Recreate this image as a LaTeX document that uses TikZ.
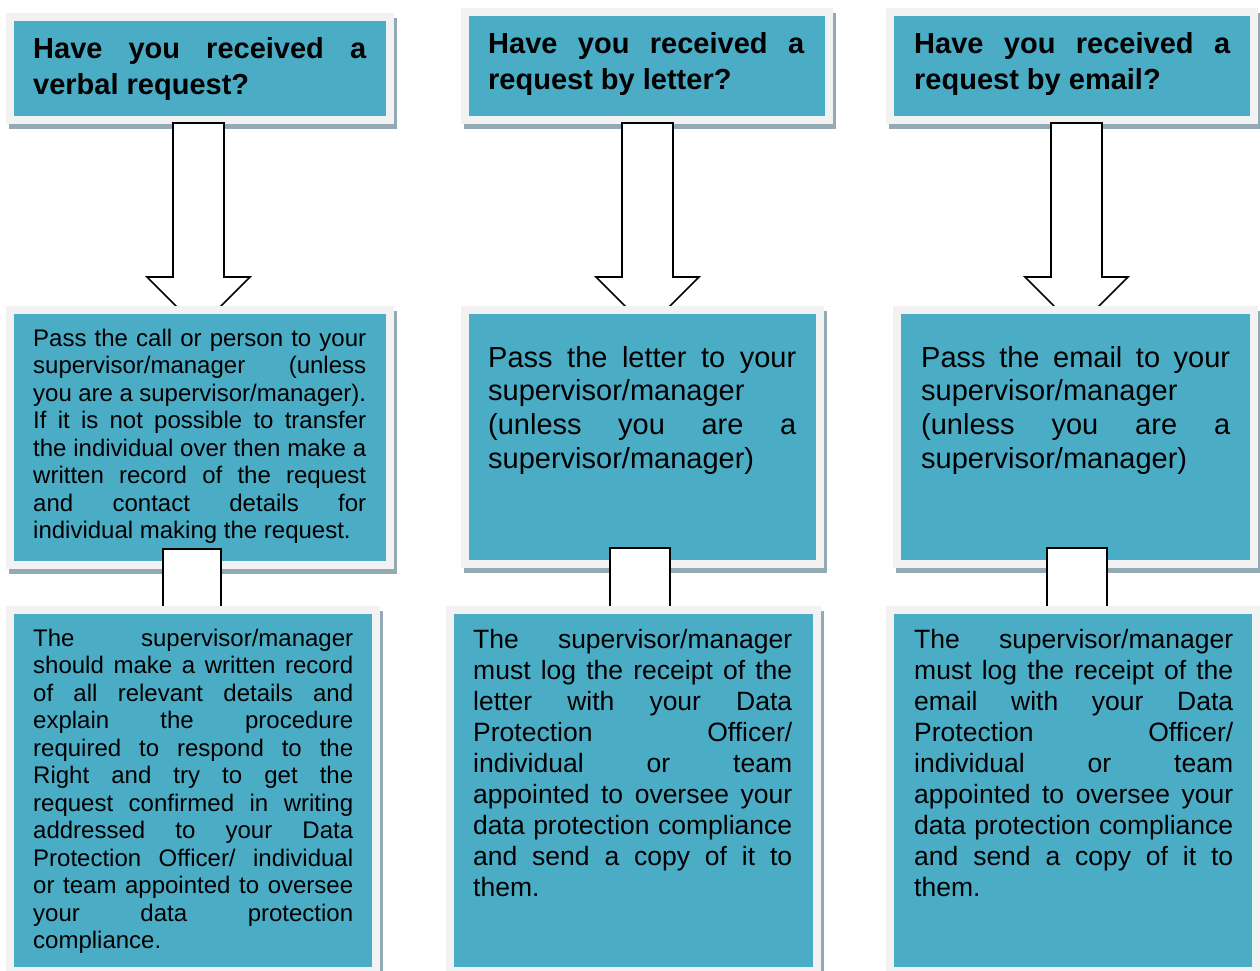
\documentclass[tikz,border=0pt]{standalone}
\usepackage{fontspec}
\setmainfont{Liberation Sans}
\usetikzlibrary{calc}
\definecolor{tealbox}{HTML}{4BACC6}
\definecolor{bordergray}{HTML}{F2F2F2}
\definecolor{shadowblue}{HTML}{93A9B3}
\pgfdeclarelayer{rowone}
\pgfdeclarelayer{arrone}
\pgfdeclarelayer{rowtwo}
\pgfdeclarelayer{arrtwo}
\pgfsetlayers{rowone,arrone,rowtwo,arrtwo,main}
\tolerance=10000
\hyphenpenalty=10000
\exhyphenpenalty=10000
\hbadness=10000
\hfuzz=5pt
\tikzset{
  fbox/.style={rectangle, fill=tealbox, draw=bordergray, line width=8pt, inner sep=0pt},
  barrow/.style={draw=black, fill=white, line width=1.6pt, line join=miter},
  txt/.style={anchor=base west, inner sep=0pt, align=justify, text width=#1},
  headfont/.style={font=\fontsize{29}{36}\selectfont\bfseries},
  smallfont/.style={font=\fontsize{24}{27.5}\selectfont},
  largefont/.style={font=\fontsize{29}{33.7}\selectfont},
  midfont/.style={font=\fontsize{26.5}{31}\selectfont}
}
% #1 name, #2 x1, #3 y1, #4 x2, #5 y2 (inner teal rectangle)
\newcommand\flowbox[5]{%
  \fill[shadowblue] ({#2-5},{#3-3}) rectangle ({#4+11},{#5+13});
  \node[fbox, minimum width={#4-#2+8}, minimum height={#5-#3+8}] (#1) at ({(#2+#4)/2},{(#3+#5)/2}) {};
}
% #1 start anchor, #2 end anchor, #3 x offset, #4 start y offset, #5 half shaft, #6 half head, #7 head base offset
\newcommand\blockarrow[7]{%
  \draw[barrow] ($(#1)+({#3-#5},#4)$) -- ($(#1)+({#3+#5},#4)$)
    -- ($(#1 |- #2)+({#3+#5},#7)$) -- ($(#1 |- #2)+({#3+#6},#7)$)
    -- ($(#1 |- #2)+(#3,{#7+#6})$) -- ($(#1 |- #2)+({#3-#6},#7)$)
    -- ($(#1 |- #2)+({#3-#5},#7)$) -- cycle;
}
\begin{document}
\begin{tikzpicture}[x=1pt,y=-1pt]
\useasboundingbox (0,0) rectangle (1260,971);

\begin{pgfonlayer}{rowone}
  \fill[white] (0,0) rectangle (1260,971);
  \flowbox{L1}{14}{21}{386}{116}
  \flowbox{M1}{469}{16}{825}{116}
  \flowbox{R1}{894}{16}{1250}{116}
  \node[txt=333pt, headfont] (tL1) at (33,58.5) {Have you received a\linebreak verbal request?};
  \node[txt=316pt, headfont] (tM1) at (488,53.5) {Have you received a\linebreak request by letter?};
  \node[txt=316pt, headfont] (tR1) at (914,53.5) {Have you received a\linebreak request by email?};
\end{pgfonlayer}

\begin{pgfonlayer}{rowtwo}
  \flowbox{L2}{14}{314}{386}{561}
  \flowbox{M2}{469}{314}{816}{560}
  \flowbox{R2}{901}{314}{1250}{560}
  \node[txt=333pt, smallfont] (tL2) at (33,346) {Pass the call or person to your\linebreak
    supervisor/manager (unless\linebreak
    you are a supervisor/manager).\linebreak
    If it is not possible to transfer\linebreak
    the individual over then make a\linebreak
    written record of the request\linebreak
    and contact details for\linebreak
    individual making the request.};
  \node[txt=308pt, largefont] (tM2) at (488,367) {Pass the letter to your\linebreak
    supervisor/manager\linebreak
    (unless you are a\linebreak
    supervisor/manager)};
  \node[txt=309pt, largefont] (tR2) at (921,367) {Pass the email to your\linebreak
    supervisor/manager\linebreak
    (unless you are a\linebreak
    supervisor/manager)};
\end{pgfonlayer}

\flowbox{L3}{14}{614}{372}{967}
\flowbox{M3}{454}{614}{813}{967}
\flowbox{R3}{894}{614}{1252}{967}
\node[txt=320pt, smallfont] (tL3) at (33,646) {The supervisor/manager\linebreak
  should make a written record\linebreak
  of all relevant details and\linebreak
  explain the procedure\linebreak
  required to respond to the\linebreak
  Right and try to get the\linebreak
  request confirmed in writing\linebreak
  addressed to your Data\linebreak
  Protection Officer/ individual\linebreak
  or team appointed to oversee\linebreak
  your data protection\linebreak
  compliance.};
\node[txt=319pt, midfont] (tM3) at (473,648) {The supervisor/manager\linebreak
  must log the receipt of the\linebreak
  letter with your Data\linebreak
  Protection Officer/\linebreak
  individual or team\linebreak
  appointed to oversee your\linebreak
  data protection compliance\linebreak
  and send a copy of it to\linebreak
  them.};
\node[txt=319pt, midfont] (tR3) at (914,648) {The supervisor/manager\linebreak
  must log the receipt of the\linebreak
  email with your Data\linebreak
  Protection Officer/\linebreak
  individual or team\linebreak
  appointed to oversee your\linebreak
  data protection compliance\linebreak
  and send a copy of it to\linebreak
  them.};

\begin{pgfonlayer}{arrone}
  \blockarrow{L1.south}{L2.north}{-1.5}{-1}{25.5}{51.5}{-29}
  \blockarrow{M1.south}{M2.north}{0.5}{-1}{25.5}{51.5}{-29}
  \blockarrow{R1.south}{R2.north}{4.5}{-1}{25.5}{51.5}{-29}
\end{pgfonlayer}

\begin{pgfonlayer}{arrtwo}
  \blockarrow{L2.south}{L3.north}{-8}{-20}{29}{45}{14}
  \blockarrow{M2.south}{M3.north}{-2.5}{-20}{30}{45}{14}
  \blockarrow{R2.south}{R3.north}{1.5}{-20}{30}{45}{14}
\end{pgfonlayer}
\end{tikzpicture}
\end{document}
